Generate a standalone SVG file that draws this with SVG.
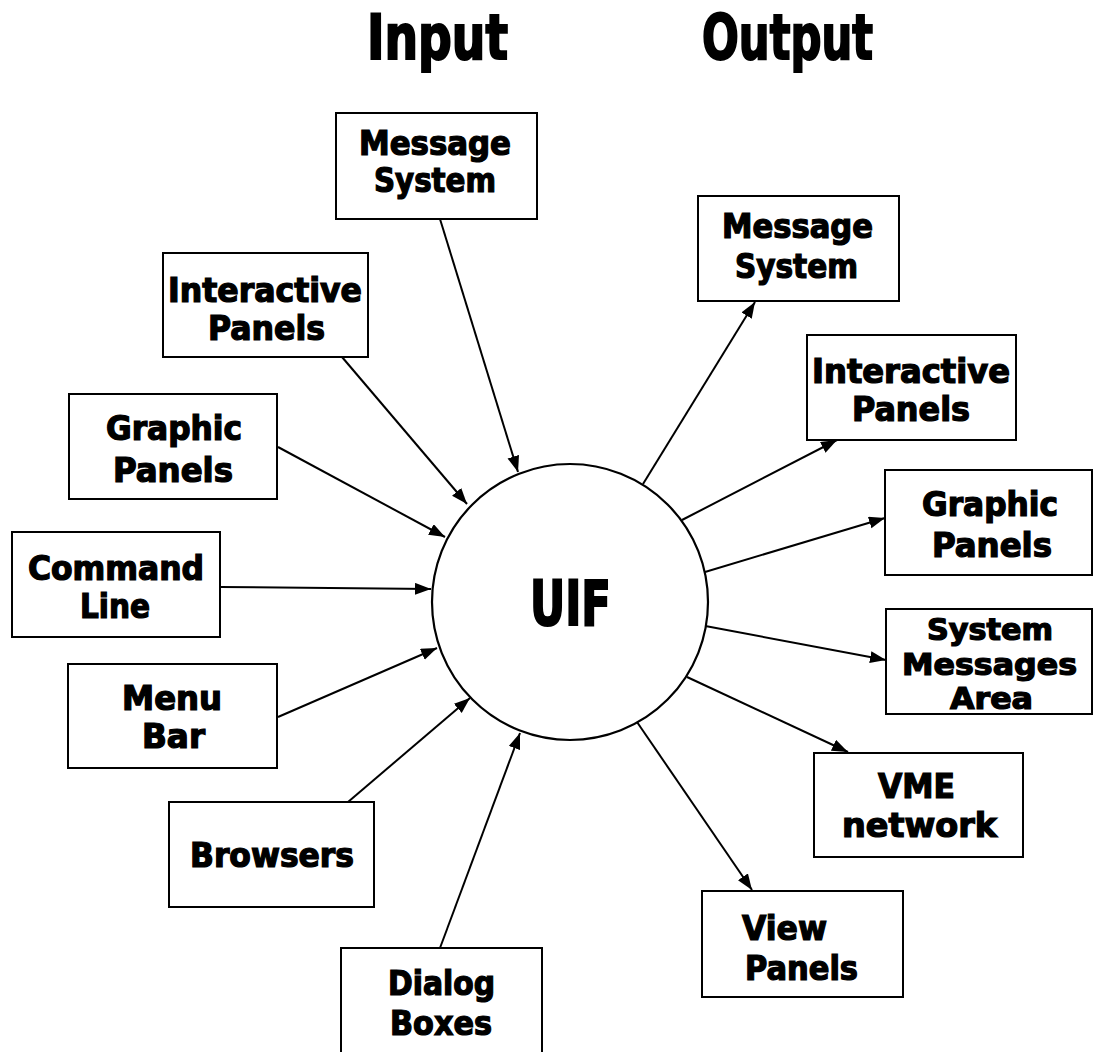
<svg xmlns="http://www.w3.org/2000/svg" width="1093" height="1052" viewBox="0 0 1093 1052">
  <style>
    .box { fill: #ffffff; stroke: #000000; stroke-width: 2; }
    .hub { fill: #ffffff; stroke: #000000; stroke-width: 2.2; }
    .lbl { font-family: 'Liberation Sans Narrow', 'DejaVu Sans Condensed', 'Liberation Sans', sans-serif; font-weight: bold; font-size: 33px; fill: #000000; stroke: #000000; stroke-width: 1.2; text-anchor: middle; }
    .small { font-size: 30px; }
    .title { font-size: 62px; stroke-width: 2; }
    .hubtxt { font-size: 62px; stroke-width: 2; }
    .link { stroke: #000000; stroke-width: 2; fill: none; marker-end: url(#head); }
  </style>
  <defs>
    <marker id="head" markerUnits="userSpaceOnUse" markerWidth="17" markerHeight="13" refX="16" refY="6" orient="auto">
      <path d="M0,0 L16,6 L0,12 Z" fill="#000000"/>
    </marker>
  </defs>

  <rect width="1093" height="1052" fill="#ffffff"/>

  <!-- column headings -->
  <g id="heading-input">
    <text class="lbl title" x="437.5" y="59" textLength="141" lengthAdjust="spacingAndGlyphs">Input</text>
  </g>
  <g id="heading-output">
    <text class="lbl title" x="787.5" y="59" textLength="171" lengthAdjust="spacingAndGlyphs">Output</text>
  </g>

  <!-- connectors -->
  <g id="connectors">
    <!-- inputs into UIF -->
    <line class="link" x1="440" y1="219" x2="518" y2="472"/>
    <line class="link" x1="342" y1="357" x2="467" y2="504"/>
    <line class="link" x1="278" y1="447" x2="445" y2="537"/>
    <line class="link" x1="220" y1="587" x2="431" y2="589"/>
    <line class="link" x1="278" y1="717" x2="437" y2="648"/>
    <line class="link" x1="348" y1="802" x2="470" y2="698"/>
    <line class="link" x1="440" y1="948" x2="520" y2="733"/>
    <!-- outputs from UIF -->
    <line class="link" x1="643" y1="484" x2="755" y2="302"/>
    <line class="link" x1="682" y1="520" x2="837" y2="440"/>
    <line class="link" x1="705" y1="572" x2="885" y2="518"/>
    <line class="link" x1="700" y1="625" x2="886" y2="660"/>
    <line class="link" x1="687" y1="677" x2="848" y2="752"/>
    <line class="link" x1="637" y1="722" x2="752" y2="890"/>
  </g>

  <!-- central hub -->
  <g id="uif">
    <circle class="hub" cx="570" cy="602" r="138"/>
    <text class="lbl hubtxt" x="570.5" y="625" textLength="81" lengthAdjust="spacingAndGlyphs">UIF</text>
  </g>

  <!-- input sources -->
  <g id="in-message-system">
    <rect class="box" x="336" y="113" width="201" height="106"/>
    <text class="lbl" x="435" y="155" textLength="152" lengthAdjust="spacingAndGlyphs">Message</text>
    <text class="lbl" x="435" y="192" textLength="122" lengthAdjust="spacingAndGlyphs">System</text>
  </g>
  <g id="in-interactive-panels">
    <rect class="box" x="163" y="253" width="205" height="104"/>
    <text class="lbl" x="265" y="302" textLength="194" lengthAdjust="spacingAndGlyphs">Interactive</text>
    <text class="lbl" x="266.5" y="340" textLength="117" lengthAdjust="spacingAndGlyphs">Panels</text>
  </g>
  <g id="in-graphic-panels">
    <rect class="box" x="69" y="394" width="208" height="105"/>
    <text class="lbl" x="174" y="440" textLength="136" lengthAdjust="spacingAndGlyphs">Graphic</text>
    <text class="lbl" x="173" y="482" textLength="120" lengthAdjust="spacingAndGlyphs">Panels</text>
  </g>
  <g id="in-command-line">
    <rect class="box" x="12" y="532" width="208" height="105"/>
    <text class="lbl" x="116" y="580" textLength="176" lengthAdjust="spacingAndGlyphs">Command</text>
    <text class="lbl" x="115" y="618" textLength="70" lengthAdjust="spacingAndGlyphs">Line</text>
  </g>
  <g id="in-menu-bar">
    <rect class="box" x="68" y="664" width="209" height="104"/>
    <text class="lbl" x="172" y="710" textLength="100" lengthAdjust="spacingAndGlyphs">Menu</text>
    <text class="lbl" x="173.5" y="748" textLength="63" lengthAdjust="spacingAndGlyphs">Bar</text>
  </g>
  <g id="in-browsers">
    <rect class="box" x="169" y="802" width="205" height="105"/>
    <text class="lbl" x="272" y="867" textLength="164" lengthAdjust="spacingAndGlyphs">Browsers</text>
  </g>
  <g id="in-dialog-boxes">
    <rect class="box" x="341" y="948" width="201" height="110"/>
    <text class="lbl" x="441.5" y="995" textLength="107" lengthAdjust="spacingAndGlyphs">Dialog</text>
    <text class="lbl" x="441" y="1035" textLength="102" lengthAdjust="spacingAndGlyphs">Boxes</text>
  </g>

  <!-- output targets -->
  <g id="out-message-system">
    <rect class="box" x="698" y="196" width="201" height="105"/>
    <text class="lbl" x="797.5" y="238" textLength="151" lengthAdjust="spacingAndGlyphs">Message</text>
    <text class="lbl" x="796.5" y="278" textLength="123" lengthAdjust="spacingAndGlyphs">System</text>
  </g>
  <g id="out-interactive-panels">
    <rect class="box" x="807" y="335" width="209" height="105"/>
    <text class="lbl" x="911" y="383" textLength="198" lengthAdjust="spacingAndGlyphs">Interactive</text>
    <text class="lbl" x="911" y="421" textLength="118" lengthAdjust="spacingAndGlyphs">Panels</text>
  </g>
  <g id="out-graphic-panels">
    <rect class="box" x="885" y="470" width="207" height="105"/>
    <text class="lbl" x="990" y="516" textLength="136" lengthAdjust="spacingAndGlyphs">Graphic</text>
    <text class="lbl" x="992" y="557" textLength="120" lengthAdjust="spacingAndGlyphs">Panels</text>
  </g>
  <g id="out-system-messages-area">
    <rect class="box" x="886" y="609" width="206" height="105"/>
    <text class="lbl small" x="990" y="640" textLength="126" lengthAdjust="spacingAndGlyphs">System</text>
    <text class="lbl small" x="989.5" y="675" textLength="175" lengthAdjust="spacingAndGlyphs">Messages</text>
    <text class="lbl small" x="991.5" y="709" textLength="83" lengthAdjust="spacingAndGlyphs">Area</text>
  </g>
  <g id="out-vme-network">
    <rect class="box" x="814" y="753" width="209" height="104"/>
    <text class="lbl" x="916.5" y="798" textLength="77" lengthAdjust="spacingAndGlyphs">VME</text>
    <text class="lbl" x="919.5" y="837" textLength="155" lengthAdjust="spacingAndGlyphs">network</text>
  </g>
  <g id="out-view-panels">
    <rect class="box" x="702" y="891" width="201" height="106"/>
    <text class="lbl" x="784.5" y="940" textLength="85" lengthAdjust="spacingAndGlyphs">View</text>
    <text class="lbl" x="801.5" y="980" textLength="113" lengthAdjust="spacingAndGlyphs">Panels</text>
  </g>
</svg>
